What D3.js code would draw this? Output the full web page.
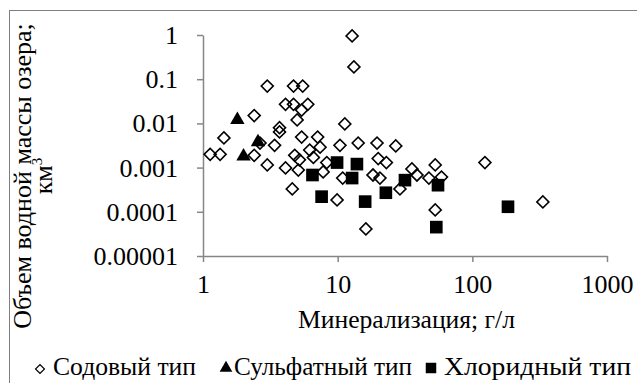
<!DOCTYPE html>
<html>
<head>
<meta charset="utf-8">
<script src="https://cdn.jsdelivr.net/npm/d3@7"></script>
<style>
  body { margin: 0; background: #fff; }
  svg text { font-family: "Liberation Serif", "Times New Roman", "DejaVu Serif", serif !important; fill: #000; }
</style>
</head>
<body>
<svg id="chart" width="637" height="383"></svg>
<script>
// Содовый тип (mineralization g/l, volume km3)
const sodaX = [12.8, 13.2, 3.0, 4.7, 5.5, 4.1, 4.7, 6.0, 5.4, 5.0, 2.4, 3.7, 11.3, 1.43, 5.4, 7.1,
  1.13, 1.34, 2.65, 3.4, 3.7, 3.0, 4.1, 4.6, 2.4, 4.8, 5.1, 6.2, 7.4, 5.2, 10.4, 14.2, 19.6, 27,
  20, 23, 10.9, 18.3, 9.9, 16.2, 20.6, 35.6, 38.8, 29, 53, 47.6, 59, 53, 124, 334, 6.6, 7.8, 8.3];
const sodaY = [0.95, 0.19, 0.07, 0.07, 0.07, 0.027, 0.027, 0.027, 0.02, 0.012, 0.015, 0.008, 0.0097, 0.0047, 0.0049, 0.0049,
  0.002, 0.002, 0.0036, 0.0032, 0.0064, 0.00115, 0.00098, 0.00033, 0.0019, 0.0019, 0.00088, 0.0025, 0.0029, 0.0015, 0.0032, 0.0036, 0.0036, 0.0031,
  0.0016, 0.0013, 0.00058, 0.00068, 0.000185, 0.000041, 0.00058, 0.00093, 0.00068, 0.00033, 0.00115, 0.00058, 0.00061, 0.00011, 0.0013, 0.000167, 0.0017, 0.0008, 0.0013];
// Сульфатный тип
const sulfX = [1.8, 2.0, 2.56];
const sulfY = [0.012, 0.0018, 0.0038];
// Хлоридный тип
const chlorX = [6.5, 7.6, 9.9, 13.9, 12.8, 16, 22.8, 31.6, 55.6, 54, 184];
const chlorY = [0.00068, 0.00022, 0.0013, 0.0012, 0.00058, 0.00017, 0.00027, 0.00052, 0.0004, 0.000045, 0.00013];

const xTicks = [1, 10, 100, 1000];
const yTicks = [1, 0.1, 0.01, 0.001, 0.0001, 0.00001];
const yTickLabels = ["1", "0.1", "0.01", "0.001", "0.0001", "0.00001"];
const legendNames = ["Содовый тип", "Сульфатный тип", "Хлоридный тип"];

const svg = d3.select("#chart");
const plotLeft = 203, plotRight = 607, plotTop = 35, plotBottom = 256;
const FS = 26;

// frame
svg.append("rect")
  .attr("x", 9.5).attr("y", 10.5)
  .attr("width", 640).attr("height", 400)
  .attr("fill", "none").attr("stroke", "#7f7f7f").attr("stroke-width", 1);

const x = d3.scaleLog().domain([1, 1000]).range([plotLeft, plotRight]);
const y = d3.scaleLog().domain([0.00001, 1]).range([plotBottom, plotTop]);

const xAxis = svg.append("g")
  .attr("transform", "translate(0," + plotBottom + ")")
  .call(d3.axisBottom(x).tickValues(xTicks).tickFormat(d => d).tickSize(6).tickSizeOuter(0));
const yAxis = svg.append("g")
  .attr("transform", "translate(" + plotLeft + ",0)")
  .call(d3.axisLeft(y).tickValues(yTicks).tickFormat((d, i) => yTickLabels[i]).tickSize(6).tickSizeOuter(0));

[xAxis, yAxis].forEach(a => {
  a.attr("font-family", null).attr("font-size", null);
  a.select(".domain").attr("stroke", "#868686").attr("stroke-width", 1.5);
  a.selectAll(".tick line").attr("stroke", "#868686").attr("stroke-width", 1.5);
  a.selectAll(".tick text").style("font-size", FS + "px").attr("fill", "#000");
});
xAxis.selectAll(".tick text").attr("dy", 0).attr("y", 37);
yAxis.selectAll(".tick text").attr("x", -25).attr("dy", "0.33em");

// points
const plot = svg.append("g");

plot.selectAll(".soda").data(sodaX).enter().append("path")
  .attr("d", d3.symbol().type(d3.symbolSquare).size(72))
  .attr("transform", (d, i) => "translate(" + x(d) + "," + y(sodaY[i]) + ") rotate(45)")
  .attr("fill", "none").attr("stroke", "#000").attr("stroke-width", 1.6);

plot.selectAll(".sulf").data(sulfX).enter().append("path")
  .attr("d", d3.symbol().type(d3.symbolTriangle).size(90))
  .attr("transform", (d, i) => "translate(" + x(d) + "," + y(sulfY[i]) + ")")
  .attr("fill", "#000");

plot.selectAll(".chlor").data(chlorX).enter().append("path")
  .attr("d", d3.symbol().type(d3.symbolSquare).size(160))
  .attr("transform", (d, i) => "translate(" + x(d) + "," + y(chlorY[i]) + ")")
  .attr("fill", "#000");

// axis titles
svg.append("text")
  .attr("x", 298).attr("y", 328)
  .attr("textLength", 217).attr("lengthAdjust", "spacingAndGlyphs")
  .style("font-size", FS + "px")
  .text("Минерализация; г/л");

const yt = svg.append("text")
  .attr("transform", "translate(31,176) rotate(-90)")
  .attr("text-anchor", "middle").style("font-size", FS + "px");
yt.append("tspan").attr("x", 0).attr("y", 0).text("Объем водной массы озера;");
yt.append("tspan").attr("x", 0).attr("y", 21).text("км");
yt.append("tspan").attr("dy", -10).style("font-size", "15px").text("3");

// legend
const lg = svg.append("g").attr("transform", "translate(0,368)");
const legendX = [40, 226, 431];
const legendW = [143, 178, 187];
lg.append("path").attr("d", d3.symbol().type(d3.symbolSquare).size(40))
  .attr("transform", "translate(" + legendX[0] + ",1) rotate(45)")
  .attr("fill", "none").attr("stroke", "#000").attr("stroke-width", 1.2);
lg.append("path").attr("d", d3.symbol().type(d3.symbolTriangle).size(70))
  .attr("transform", "translate(" + legendX[1] + ",0)").attr("fill", "#000");
lg.append("path").attr("d", d3.symbol().type(d3.symbolSquare).size(110))
  .attr("transform", "translate(" + legendX[2] + ",0)").attr("fill", "#000");
lg.selectAll(".lt").data(legendNames).enter().append("text")
  .attr("x", (d, i) => legendX[i] + (i === 1 ? 8 : 13)).attr("y", 7)
  .attr("textLength", (d, i) => legendW[i]).attr("lengthAdjust", "spacingAndGlyphs")
  .style("font-size", FS + "px").text(d => d);
</script>
</body>
</html>
